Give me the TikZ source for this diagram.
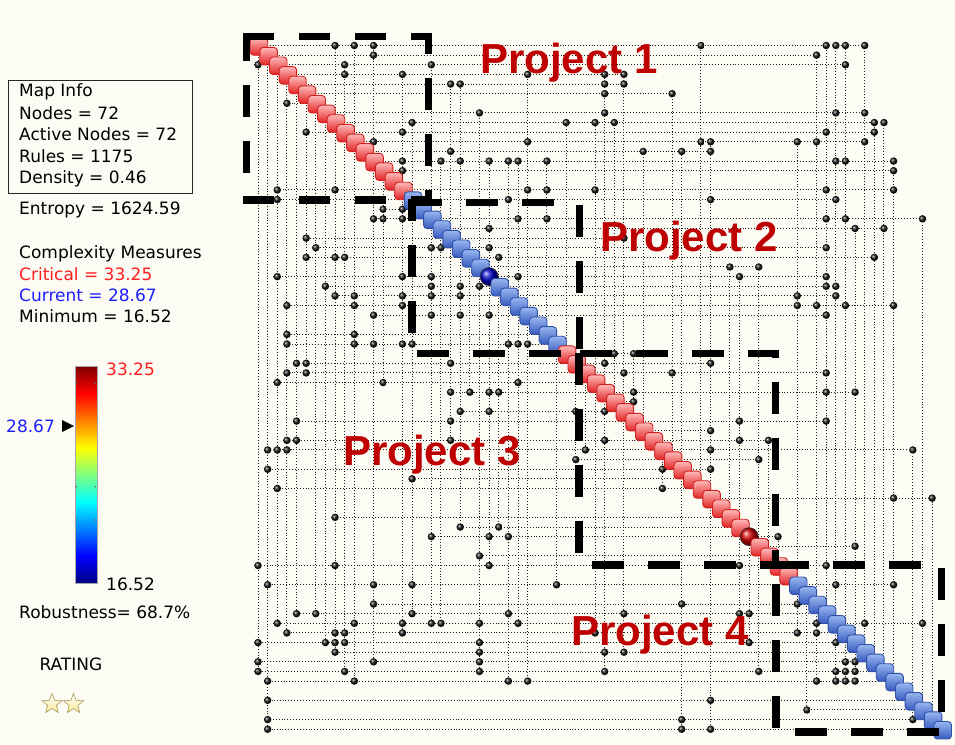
\documentclass[tikz,border=0pt]{standalone}
\usepackage{fontspec}
\setmainfont{DejaVu Sans}
\newfontfamily\labfont{Liberation Sans}
\usetikzlibrary{shapes.geometric}
\definecolor{bgc}{RGB}{252,252,244}
\definecolor{projred}{RGB}{190,0,0}
\definecolor{critred}{RGB}{255,30,30}
\definecolor{curblue}{RGB}{30,30,255}
\definecolor{sqredtop}{RGB}{255,185,185}
\definecolor{sqredmid}{RGB}{244,88,88}
\definecolor{sqredbot}{RGB}{225,35,35}
\definecolor{sqredbd}{RGB}{208,32,32}
\definecolor{sqbluetop}{RGB}{152,182,240}
\definecolor{sqbluemid}{RGB}{92,132,216}
\definecolor{sqbluebot}{RGB}{55,90,190}
\definecolor{sqbluebd}{RGB}{48,80,168}
\definecolor{jetA}{RGB}{0,0,130}
\definecolor{jetB}{RGB}{0,0,255}
\definecolor{jetC}{RGB}{0,255,255}
\definecolor{jetD}{RGB}{255,255,0}
\definecolor{jetE}{RGB}{255,0,0}
\definecolor{jetF}{RGB}{128,0,0}
\definecolor{starfill}{RGB}{250,232,150}
\definecolor{starline}{RGB}{170,150,90}
\pgfdeclareverticalshading{jetbar}{100bp}{color(0bp)=(jetA); color(25bp)=(jetA); color(31.25bp)=(jetB); color(43.75bp)=(jetC); color(56.25bp)=(jetD); color(68.75bp)=(jetE); color(75bp)=(jetF); color(100bp)=(jetF)}
\pgfdeclarelayer{back}
\pgfdeclarelayer{lines}
\pgfsetlayers{back,lines,main}
\tikzset{
  conn/.style={line width=1pt, dash pattern=on 1pt off 1.9pt, black!88},
  dotball/.style={circle, inner sep=0pt, minimum size=7.5pt, shading=ball, ball color=black!92},
  redsq/.style={rectangle, rounded corners=3.5pt, minimum size=17.5pt, inner sep=0pt, draw=sqredbd, line width=0.9pt, top color=sqredtop, middle color=sqredmid, bottom color=sqredbot},
  bluesq/.style={rectangle, rounded corners=3.5pt, minimum size=17.5pt, inner sep=0pt, draw=sqbluebd, line width=0.9pt, top color=sqbluetop, middle color=sqbluemid, bottom color=sqbluebot},
  bigball/.style={circle, inner sep=0pt, minimum size=18pt, shading=ball, draw=black!80, line width=0.6pt},
  boxedge/.style={line width=7.5pt, line cap=rect, dash pattern=on 24pt off 32pt},
  paneltext/.style={anchor=base west, inner sep=0pt, font=\fontsize{17}{20}\selectfont},
  projlabel/.style={anchor=base west, inner sep=0pt, text=projred, font=\labfont\bfseries\fontsize{42}{48}\selectfont},
  starnode/.style={star, star points=5, star point ratio=2.3, minimum size=21pt, inner sep=0pt, draw=starline, line width=0.6pt, top color=white, bottom color=starfill}
}
\def\deplist{0/8,0/10,0/12,0/46,0/59,0/60,0/61,0/63,
1/12,1/58,
2/0,2/9,2/18,2/61,
3/9,3/15,3/28,3/36,3/38,
4/20,4/21,4/36,4/38,
5/36,5/43,
6/3,
7/23,7/36,7/60,7/63,
8/16,8/32,8/35,8/37,8/64,8/65,
9/5,9/15,9/59,9/64,
10/12,10/28,10/46,10/47,10/56,10/58,10/63,
11/20,11/40,11/44,11/47,
12/15,12/19,12/21,12/24,12/26,12/27,12/30,12/60,12/61,12/66,
13/15,13/66,
15/2,15/8,15/28,15/30,15/35,15/59,15/66,
16/2,16/26,16/47,16/60,
17/13,17/15,
18/12,18/13,18/15,18/27,18/30,18/59,18/61,18/69,
19/24,19/62,19/65,
20/5,20/38,
21/6,21/18,21/19,21/24,21/59,
22/5,22/8,22/9,22/25,22/64,
23/49,23/52,
24/2,24/15,24/18,24/27,24/50,24/59,
25/7,25/18,25/21,25/23,25/59,25/60,
26/8,26/10,26/15,26/18,26/21,26/56,26/60,
27/3,27/10,27/15,27/56,27/58,27/61,27/66,
28/12,28/18,28/21,28/24,28/59,
30/3,30/10,
31/3,31/10,31/12,31/15,31/16,31/26,31/27,31/28,
32/37,32/39,
33/4,33/5,33/20,33/36,33/47,
34/3,34/5,34/38,34/43,34/59,
35/2,35/13,35/27,
36/20,36/22,36/24,36/25,36/39,36/59,36/62,
37/39,
38/21,38/24,38/33,38/36,
39/4,39/20,39/50,39/59,
40/47,
41/3,41/4,41/20,41/36,41/50,41/53,
42/1,42/2,42/3,42/34,42/47,42/68,
43/33,43/52,
44/1,44/42,44/47,
45/16,
46/2,46/42,
47/66,47/70,
49/8,
50/21,50/25,
51/18,51/24,51/26,51/54,
52/62,
53/23,
54/0,54/8,54/24,54/50,54/59,
56/1,56/12,56/16,56/31,56/60,56/66,
58/12,58/44,58/56,
59/4,59/6,59/16,59/26,59/38,59/50,59/51,
60/2,60/10,60/15,60/18,60/19,60/23,60/27,60/58,60/63,60/69,
61/3,61/8,61/9,61/15,61/35,61/56,61/58,
62/0,62/7,62/8,62/9,62/23,62/51,62/60,
63/8,63/23,63/36,63/38,
64/0,64/12,64/23,64/61,64/62,
65/0,65/9,65/23,65/36,65/52,65/60,65/61,65/62,
66/1,66/10,66/26,66/28,66/58,66/60,66/61,66/62,
68/1,68/47,
69/57,
70/1,70/44,70/68,
71/1,71/44,71/47}
\begin{document}
\begin{tikzpicture}[x=1pt,y=1pt]
\begin{pgfonlayer}{back}
\fill[bgc] (0,0) rectangle (955,-744);
\end{pgfonlayer}
\useasboundingbox (0,0) rectangle (955,-744);

% diagonal positions
\foreach \k in {0,...,71} \coordinate (n\k) at ({258+9.63*\k},{-45.5-9.63*\k});

% dependency marks
\foreach \r/\c in \deplist {
  \node[dotball] (p\r-\c) at (n\c |- n\r) {};
}
% dependency connectors (under everything else)
\begin{pgfonlayer}{lines}
\foreach \r/\c in \deplist {
  \draw[conn] (n\r) -- (p\r-\c);
  \draw[conn] (n\c) -- (p\r-\c);
}
\end{pgfonlayer}

% diagonal elements
\foreach \k in {0,...,15} \node[redsq] (d\k) at ([shift={(1,-1)}]n\k) {};
\foreach \k in {16,...,23} \node[bluesq] (d\k) at ([shift={(1,-1)}]n\k) {};
\node[bigball, ball color={rgb,255:red,0;green,0;blue,200}] (d24) at (n24) {};
\foreach \k in {25,...,31} \node[bluesq] (d\k) at ([shift={(1,-1)}]n\k) {};
\foreach \k in {32,...,50} \node[redsq] (d\k) at ([shift={(1,-1)}]n\k) {};
\node[bigball, ball color={rgb,255:red,205;green,0;blue,0}] (d51) at (n51) {};
\foreach \k in {52,...,55} \node[redsq] (d\k) at ([shift={(1,-1)}]n\k) {};
\foreach \k in {56,...,71} \node[bluesq] (d\k) at ([shift={(1,-1)}]n\k) {};

% project boxes: corners
\coordinate (a1) at (246.5,-36.5);  \coordinate (b1) at (428.5,-36.5);
\coordinate (c1) at (428.5,-200);   \coordinate (e1) at (246.5,-200);
\coordinate (a2) at (412,-202.5);   \coordinate (b2) at (579.5,-202.5);
\coordinate (c2) at (579.5,-353.5); \coordinate (e2) at (412,-353.5);
\coordinate (a3) at (579,-353.5);   \coordinate (b3) at (775.5,-353.5);
\coordinate (c3) at (775.5,-565);   \coordinate (e3) at (579,-565);
\coordinate (a4) at (776,-565);     \coordinate (b4) at (941.5,-565);
\coordinate (c4) at (941.5,-732);   \coordinate (e4) at (776,-732);
% box 1
\draw[boxedge, dash phase=0pt] (a1) -- (b1);
\draw[boxedge, dash phase=10.75pt] (b1) -- (c1);
\draw[boxedge, dash phase=3.75pt] (a1) -- (e1);
\draw[boxedge, dash phase=0pt] (e1) -- (c1);
% box 2
\draw[boxedge, dash phase=54.25pt] (a2) -- (b2);
\draw[boxedge, dash phase=49.75pt] (b2) -- (c2);
\draw[boxedge, dash phase=9.75pt] (a2) -- (e2);
\draw[boxedge, dash phase=47.25pt] (e2) -- (c2);
% box 3
\draw[boxedge, dash phase=51.25pt] (a3) -- (b3);
\draw[boxedge, dash phase=23.75pt] (b3) -- (c3);
\draw[boxedge, dash phase=52.75pt] (a3) -- (e3);
\draw[boxedge, dash phase=39.25pt] (e3) -- (c3);
% box 4
\draw[boxedge, dash phase=51.25pt] (a4) -- (b4);
\draw[boxedge, dash phase=49.25pt] (b4) -- (c4);
\draw[boxedge, dash phase=33.25pt] (a4) -- (e4);
\draw[boxedge, dash phase=33.25pt] (e4) -- (c4);

% project labels
\node[projlabel] (lab1) at (480,-73.5) {Project 1};
\node[projlabel] (lab2) at (600,-251.5) {Project 2};
\node[projlabel] (lab3) at (343,-465) {Project 3};
\node[projlabel] (lab4) at (571,-645) {Project 4};

% map info panel
\draw[line width=1.2pt, black!85] (8.3,-80.7) rectangle (192.7,-193.3);
\node[paneltext] (mi) at (19,-96.7) {Map Info};
\node[paneltext] (nodes) at (19,-119.3) {Nodes = 72};
\node[paneltext] (active) at (19,-140.7) {Active Nodes = 72};
\node[paneltext] (rules) at (19,-162.7) {Rules = 1175};
\node[paneltext] (dens) at (19,-183.3) {Density = 0.46};
\node[paneltext] (entr) at (19,-214) {Entropy = 1624.59};
\node[paneltext] (cm) at (19,-258.3) {Complexity Measures};
\node[paneltext, text=critred] (crit) at (19,-280.7) {Critical = 33.25};
\node[paneltext, text=curblue] (curr) at (19,-301.7) {Current = 28.67};
\node[paneltext] (mini) at (19,-322.3) {Minimum = 16.52};

% colour bar
\node[rectangle, anchor=north west, inner sep=0pt, minimum width=21.5pt, minimum height=217pt, shading=jetbar, draw=black!35, line width=0.6pt] (cbar) at (75,-366) {};
\foreach \yy in {383.3,486.7,520} {
  \fill[black!60] (76.3,-\yy) circle (0.9pt);
  \fill[black!60] (95.2,-\yy) circle (0.9pt);
}
\node[paneltext, text=critred] (vmax) at (106,-375) {33.25};
\node[paneltext] (vmin) at (106,-590.7) {16.52};
\node[paneltext, text=curblue] (vcur) at (6,-432.7) {28.67};
\fill[black] (62,-420) -- (74,-426) -- (62,-432) -- cycle;
\node[paneltext] (rob) at (19,-618.3) {Robustness= 68.7\%};
\node[paneltext] (rat) at (39.3,-670.7) {RATING};
\node[starnode] (s1) at (52,-704) {};
\node[starnode] (s2) at (73.5,-704) {};
\end{tikzpicture}
\end{document}
